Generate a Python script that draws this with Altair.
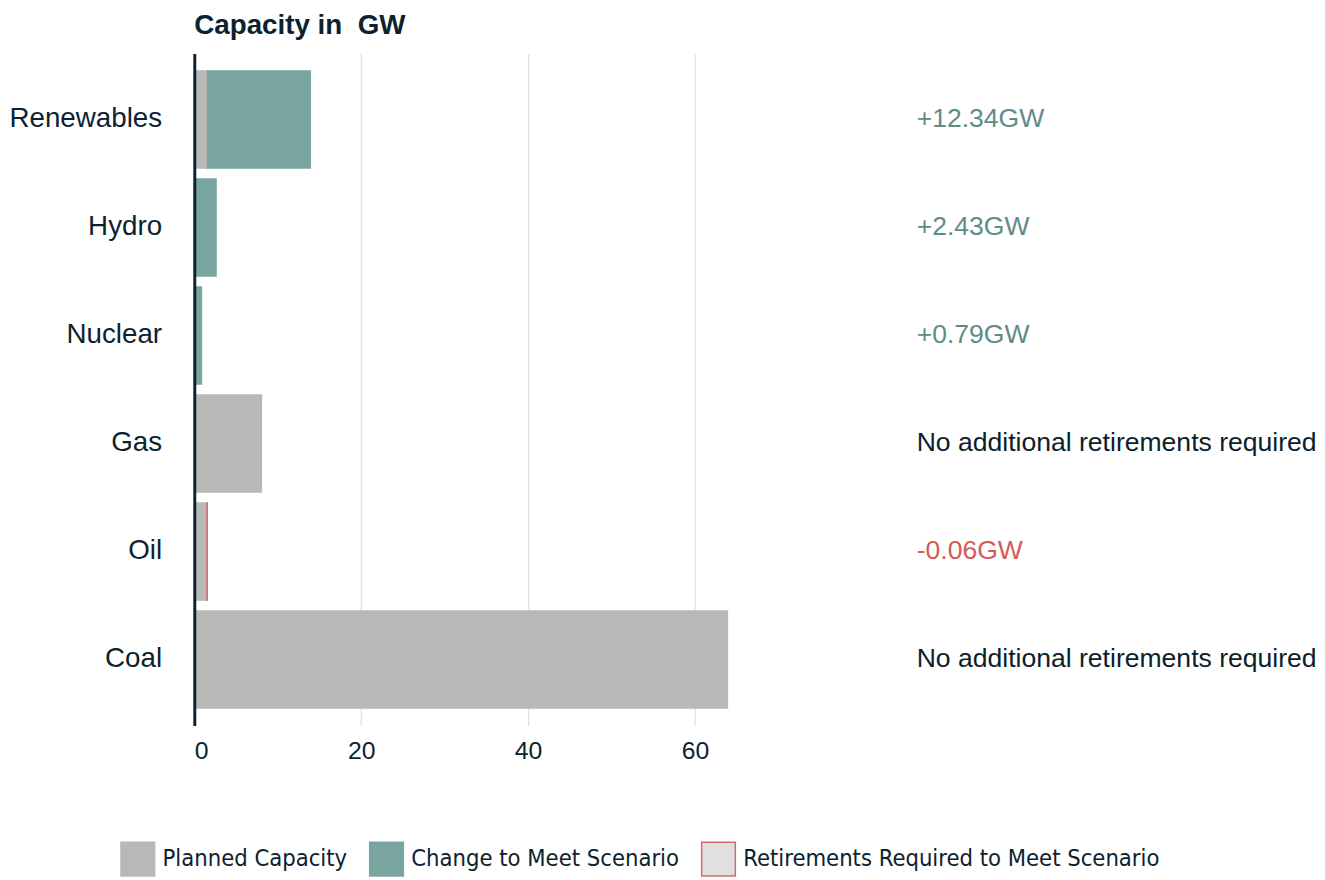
import altair as alt
import pandas as pd

# ---- data ----
categories = ["Renewables", "Hydro", "Nuclear", "Gas", "Oil", "Coal"]
planned_gw = [1.58, 0.19, 0.08, 8.06, 1.56, 63.9]
change_gw = [12.34, 2.43, 0.79, 0.0, -0.06, 0.0]
note_text = ["+12.34GW", "+2.43GW", "+0.79GW",
             "No additional retirements required", "-0.06GW",
             "No additional retirements required"]
note_kind = ["gain", "gain", "gain", "none", "loss", "none"]

series = ["Planned Capacity", "Change to Meet Scenario",
          "Retirements Required to Meet Scenario"]
x_ticks = [0, 20, 40, 60]

# ---- build tables ----
rows = []
for c, p, d in zip(categories, planned_gw, change_gw):
    rows.append({"cat": c, "series": series[0], "start": 0.0, "end": p})
    if d > 0:
        rows.append({"cat": c, "series": series[1], "start": p, "end": p + d})
    elif d < 0:
        rows.append({"cat": c, "series": series[2], "start": p + d, "end": p})
bars = pd.DataFrame(rows)
notes = pd.DataFrame({"cat": categories, "note": note_text, "kind": note_kind})

DARK = "#0d2230"
FONT = "Liberation Sans, Arial, sans-serif"
fill_range = ["#b8b8b7", "#79a5a1", "#e0e0e0"]
stroke_range = ["#b8b8b7", "#79a5a1", "#d46a6a"]

legend = alt.Legend(
    orient="none", legendX=-75, legendY=795, direction="horizontal",
    columns=3, title=None, symbolType="square", symbolSize=1156,
    symbolStrokeWidth=1.5, labelFontSize=23.8,
    labelFont="DejaVu Sans Condensed, Liberation Sans Narrow, DejaVu Sans",
    labelColor=DARK, labelOffset=7, columnPadding=19, labelLimit=700,
    padding=0, symbolOpacity=1,
)

y_enc = alt.Y(
    "cat:N", sort=categories, title=None,
    scale=alt.Scale(paddingInner=0.1, paddingOuter=0.16),
    axis=alt.Axis(labelFontSize=28, labelFont=FONT, labelColor=DARK,
                  labelPadding=33, ticks=False, domainColor=DARK,
                  domainWidth=3, grid=False, zindex=1),
)

bar_layer = alt.Chart(bars).mark_bar(strokeWidth=1.2, opacity=1).encode(
    y=y_enc,
    x=alt.X("start:Q", title=None,
            scale=alt.Scale(domain=[0, 64], nice=False, zero=True),
            axis=alt.Axis(values=x_ticks, labelFontSize=25, labelFont=FONT,
                          labelColor=DARK, labelPadding=13, ticks=False,
                          domain=False, grid=True, gridColor="#dadada",
                          gridWidth=1)),
    x2="end:Q",
    fill=alt.Fill("series:N", scale=alt.Scale(domain=series, range=fill_range),
                  legend=legend),
    stroke=alt.Stroke("series:N",
                      scale=alt.Scale(domain=series, range=stroke_range),
                      legend=legend),
    order=alt.Order("start:Q"),
)

text_layer = alt.Chart(notes).mark_text(
    align="left", baseline="middle", fontSize=26.8, font=FONT
).encode(
    y=alt.Y("cat:N", sort=categories),
    x=alt.value(729),
    text="note:N",
    color=alt.Color("kind:N",
                    scale=alt.Scale(domain=["gain", "none", "loss"],
                                    range=["#5f8c88", "#0b1e2b", "#d65a56"]),
                    legend=None),
)

chart = alt.layer(bar_layer, text_layer).properties(
    width=539, height=678,
    padding=0,
    title=alt.TitleParams("Capacity in\u00a0 GW", anchor="start", frame="group",
                          fontSize=28, fontWeight="bold", font=FONT,
                          color=DARK, offset=14),
).configure_view(stroke=None)

chart.save("out.html", embed_options={"renderer": "svg", "actions": False})
